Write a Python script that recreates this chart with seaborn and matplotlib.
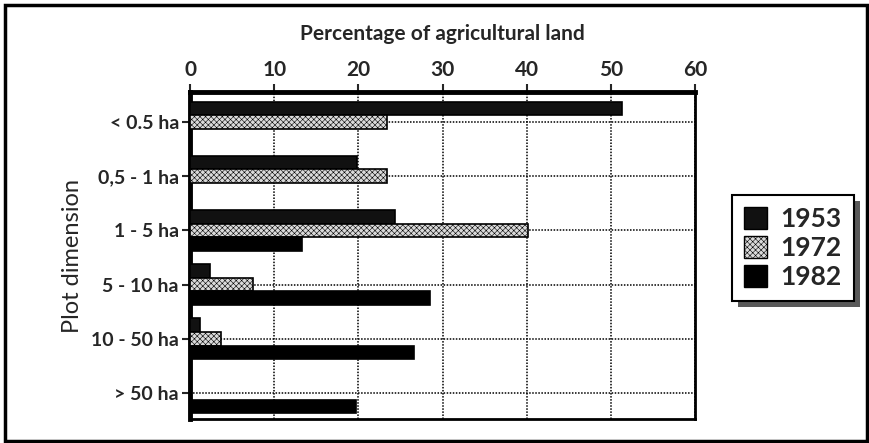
import numpy as np
import pandas as pd
import matplotlib
matplotlib.use("Agg")
import matplotlib.pyplot as plt
from matplotlib.patches import Rectangle, Patch
import seaborn as sns

# values (percentage of agricultural land)
categories = ["< 0.5 ha", "0,5 - 1 ha", "1 - 5 ha", "5 - 10 ha", "10 - 50 ha", "> 50 ha"]
years = ["1953", "1972", "1982"]
share_1953 = [51.3, 19.8, 24.3, 2.4, 1.2, np.nan]
share_1972 = [23.4, 23.4, 40.2, 7.5, 3.7, np.nan]
share_1982 = [np.nan, np.nan, 13.3, 28.5, 26.6, 19.7]

colors = {"1953": "#111111", "1972": "#dadada", "1982": "#000000"}


def build_frame():
    rows = []
    for year, vals in zip(years, [share_1953, share_1972, share_1982]):
        for cat, v in zip(categories, vals):
            rows.append({"Plot dimension": cat, "Year": year, "Share": v})
    return pd.DataFrame(rows)


def main():
    sns.set_style("white")
    plt.rcParams["font.family"] = ["Lato", "DejaVu Sans"]
    plt.rcParams["hatch.linewidth"] = 0.4

    data = build_frame()
    fig = plt.figure(figsize=(8.7, 4.43), dpi=100)
    ax = fig.add_axes([0.2184, 0.0542, 0.5805, 0.7381])

    sns.barplot(data=data, x="Share", y="Plot dimension", hue="Year",
                order=categories, hue_order=years, palette=colors,
                orient="h", width=0.75, ax=ax, legend=False,
                edgecolor="black", linewidth=1.2, saturation=1)

    # stipple pattern on the 1972 bars
    for year, cont in zip(years, ax.containers):
        for bar in cont:
            if year == "1972":
                bar.set_hatch("xxxxxx")
            bar.set_zorder(3)

    ax.set_xlim(0, 60)
    ax.set_ylim(5.48, -0.55)
    ax.set_xticks(range(0, 61, 10))
    ax.xaxis.tick_top()
    ax.xaxis.set_label_position("top")
    ax.set_xlabel("Percentage of agricultural land", fontsize=15,
                  fontweight="bold", labelpad=14)
    ax.set_ylabel("Plot dimension", fontsize=17, labelpad=6)
    ax.tick_params(axis="x", labelsize=15, length=6, width=1.5, pad=3,
                   direction="out", top=True, bottom=False)
    ax.tick_params(axis="y", labelsize=14, length=6, width=1.5, pad=2,
                   direction="out", left=True)
    for lab in ax.get_xticklabels() + ax.get_yticklabels():
        lab.set_fontweight("bold")

    ax.grid(True, color="black", linestyle=(0, (1, 1)), linewidth=1.1, zorder=1)
    ax.set_axisbelow(True)

    for side in ["left", "top"]:
        ax.spines[side].set_linewidth(3.5)
    for side in ["right", "bottom"]:
        ax.spines[side].set_linewidth(2)
    for s in ax.spines.values():
        s.set_color("black")
        s.set_visible(True)

    handles = [Patch(facecolor=colors[y], edgecolor="black",
                     hatch="xxxxxx" if y == "1972" else None) for y in years]
    leg = fig.legend(handles, years, loc="center left",
                     bbox_to_anchor=(0.826, 0.44),
                     prop={"weight": "bold", "size": 19},
                     handlelength=0.9, handleheight=0.9, handletextpad=0.5,
                     labelspacing=0.2, borderpad=0.45, fancybox=False,
                     frameon=True, edgecolor="black", framealpha=1)
    leg.get_frame().set_linewidth(1.5)
    leg.set_zorder(5)

    # drop shadow for the legend box
    fig.canvas.draw()
    bb = leg.get_window_extent().transformed(fig.transFigure.inverted())
    dx, dy = 6 / 870, 6 / 443
    fig.patches.append(Rectangle((bb.x0 + dx, bb.y0 - dy), bb.width, bb.height,
                                 transform=fig.transFigure, facecolor="0.35",
                                 edgecolor="none", zorder=4))

    # outer frame around the whole graphic
    fig.patches.append(Rectangle((0.006, 0.004), 0.99, 0.985, transform=fig.transFigure,
                                 fill=False, edgecolor="black", linewidth=2.5))

    fig.savefig("out.png", dpi=100)


if __name__ == "__main__":
    main()
